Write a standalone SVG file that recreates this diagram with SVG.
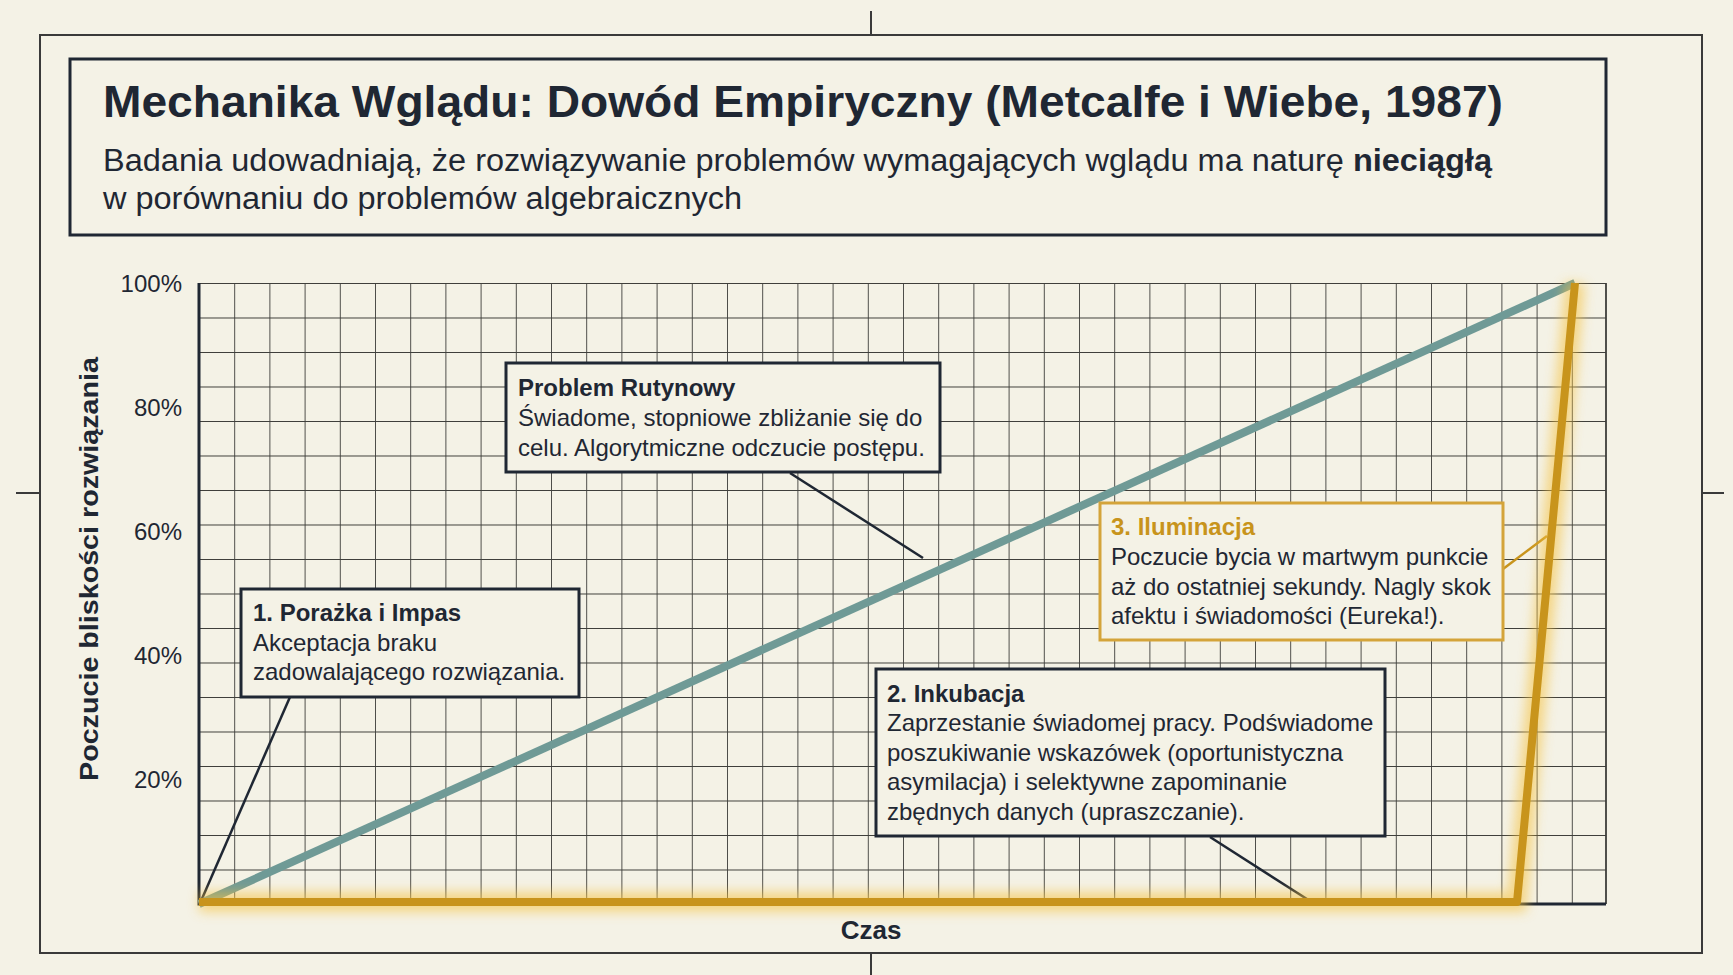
<svg xmlns="http://www.w3.org/2000/svg" width="1733" height="975" viewBox="0 0 1733 975">
<defs>
<style>
.bx{fill:#f4f2e6;stroke:#1f2733;stroke-width:3}
.t{font-family:"Liberation Sans",Arial,sans-serif;fill:#1f2733}
.lbl{font-family:"Liberation Sans",Arial,sans-serif;fill:#1f2733;font-size:24px}
.hd{font-weight:bold}
.ax{font-family:"Liberation Sans",Arial,sans-serif;fill:#1f2733;font-size:24px;text-anchor:end}
.cn{stroke:#1f2733;stroke-width:2.5;fill:none}
</style>
<pattern id="grid" x="199" y="283" width="35.2" height="34.5" patternUnits="userSpaceOnUse">
<path d="M0 0H35.2M0 0V34.5" stroke="#3e3e3a" stroke-width="1.8" fill="none"/>
</pattern>
<filter id="glow" x="-20%" y="-20%" width="140%" height="140%"><feGaussianBlur stdDeviation="6"/></filter>
</defs>
<rect width="1733" height="975" fill="#f4f2e6"/>
<g id="frame" fill="none" stroke="#3a3a3a" stroke-width="2">
<rect x="40" y="35" width="1662" height="918"/>
<path d="M871 11V35M871 953V975M16 493H40M1702 493H1724"/>
</g>
<g id="title">
<rect class="bx" x="70" y="59" width="1536" height="176"/>
<text class="t hd" x="103" y="117" font-size="45" textLength="1400" lengthAdjust="spacingAndGlyphs">Mechanika Wglądu: Dowód Empiryczny (Metcalfe i Wiebe, 1987)</text>
<text class="t" x="103" y="171" font-size="31" textLength="1389" lengthAdjust="spacingAndGlyphs">Badania udowadniają, że rozwiązywanie problemów wymagających wglądu ma naturę <tspan font-weight="bold">nieciągłą</tspan></text>
<text class="t" x="103" y="209" font-size="31" textLength="639" lengthAdjust="spacingAndGlyphs">w porównaniu do problemów algebraicznych</text>
</g>
<g id="plot">
<rect x="199" y="283" width="1407" height="621" fill="url(#grid)"/>
<path d="M1606 283V904" stroke="#3e3e3a" stroke-width="1.8"/>
<path d="M199 283V904H1606" stroke="#1f2733" stroke-width="3" fill="none"/>
<text class="ax" x="182" y="292">100%</text>
<text class="ax" x="182" y="416">80%</text>
<text class="ax" x="182" y="540">60%</text>
<text class="ax" x="182" y="664">40%</text>
<text class="ax" x="182" y="788">20%</text>
<text class="t hd" font-size="26" transform="translate(98 569) rotate(-90)" text-anchor="middle" textLength="424" lengthAdjust="spacingAndGlyphs">Poczucie bliskości rozwiązania</text>
<text class="t hd" font-size="26" x="871" y="939" text-anchor="middle">Czas</text>
</g>
<g id="connectors">
<path class="cn" d="M790 473L923 558"/>
<path class="cn" d="M290 697L201 901"/>
<path class="cn" d="M1210 837L1310 901"/>
<path d="M1503 569L1547 536" stroke="#c8941c" stroke-width="2.5" fill="none"/>
<line x1="199" y1="904" x2="1575" y2="283" stroke="#6f9a96" stroke-width="8"/>
<path d="M199 902H1517L1575 283" stroke="#f5c242" stroke-width="20" fill="none" opacity="0.6" filter="url(#glow)"/>
<path d="M199 902H1517L1575 283" stroke="#c8941c" stroke-width="8" fill="none" stroke-linejoin="round"/>
</g>
<g id="routine">
<rect class="bx" x="506" y="363" width="434" height="109"/>
<text class="lbl hd" x="518" y="396">Problem Rutynowy</text>
<text class="lbl" x="518" y="426">Świadome, stopniowe zbliżanie się do</text>
<text class="lbl" x="518" y="456">celu. Algorytmiczne odczucie postępu.</text>
</g>
<g id="impas">
<rect class="bx" x="241" y="589" width="338" height="108"/>
<text class="lbl hd" x="253" y="621">1. Porażka i Impas</text>
<text class="lbl" x="253" y="651">Akceptacja braku</text>
<text class="lbl" x="253" y="680">zadowalającego rozwiązania.</text>
</g>
<g id="iluminacja">
<rect x="1100" y="503" width="403" height="137" fill="#f4f2e6" stroke="#d4a43a" stroke-width="3"/>
<text class="lbl hd" x="1111" y="535" style="fill:#c8941c">3. Iluminacja</text>
<text class="lbl" x="1111" y="565">Poczucie bycia w martwym punkcie</text>
<text class="lbl" x="1111" y="595">aż do ostatniej sekundy. Nagly skok</text>
<text class="lbl" x="1111" y="624">afektu i świadomości (Eureka!).</text>
</g>
<g id="inkubacja">
<rect class="bx" x="876" y="669" width="509" height="167"/>
<text class="lbl hd" x="887" y="702">2. Inkubacja</text>
<text class="lbl" x="887" y="731">Zaprzestanie świadomej pracy. Podświadome</text>
<text class="lbl" x="887" y="761">poszukiwanie wskazówek (oportunistyczna</text>
<text class="lbl" x="887" y="790">asymilacja) i selektywne zapominanie</text>
<text class="lbl" x="887" y="820">zbędnych danych (upraszczanie).</text>
</g>
</svg>
